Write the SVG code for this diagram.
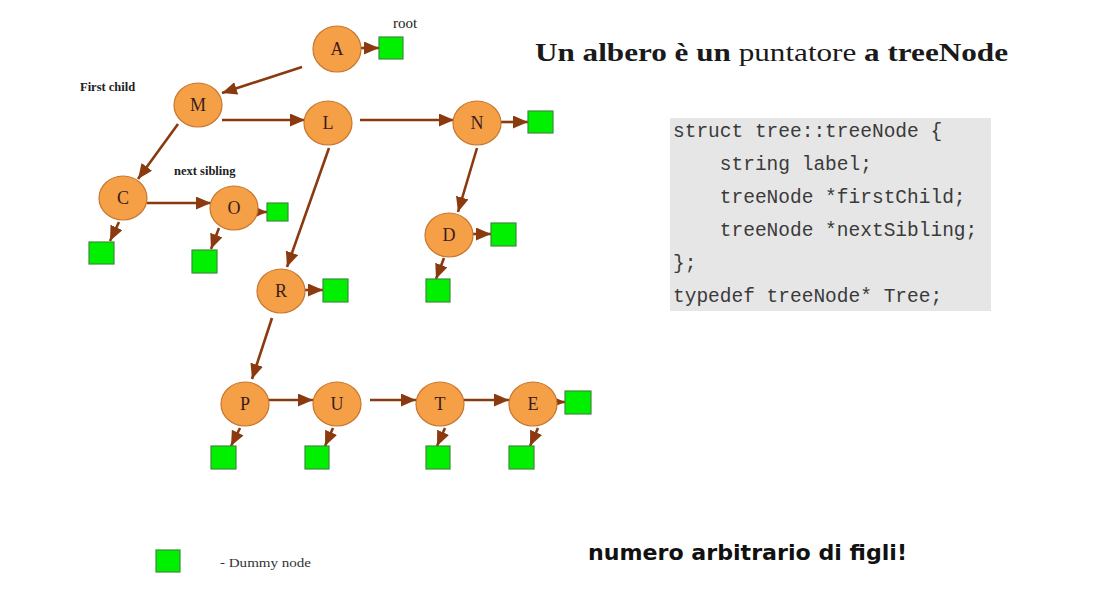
<svg xmlns="http://www.w3.org/2000/svg" width="1094" height="612" viewBox="0 0 1094 612">
<style>
.node ellipse{fill:#F5A047;stroke:#C8762E;stroke-width:1.2}
.node text{font-family:"Liberation Serif",serif;font-size:18px;fill:#3a1c1c;text-anchor:middle}
.dummy{fill:#00F000;stroke:#3C8A3C;stroke-width:1.2}
.conn line{stroke:#8A3A0E;stroke-width:2.6;marker-end:url(#ah)}
.lbl{font-family:"Liberation Serif",serif;font-weight:bold;font-size:12.5px;fill:#222}
.code{font-family:"Liberation Mono",monospace;font-size:19.5px;fill:#3a3a3a;white-space:pre}
</style>
<defs>
<marker id="ah" markerUnits="userSpaceOnUse" markerWidth="16" markerHeight="14" refX="15" refY="6.5" orient="auto">
<path d="M0,0 L15,6.5 L0,13 z" fill="#8A3A0E"/>
</marker>
</defs>
<rect width="1094" height="612" fill="#fff"/>

<g id="connectors" class="conn">
<line x1="302" y1="67" x2="222" y2="93"/>
<line x1="361" y1="48" x2="379" y2="48"/>
<line x1="222" y1="120" x2="305" y2="120"/>
<line x1="178" y1="124" x2="138" y2="179"/>
<line x1="360" y1="120" x2="454" y2="120"/>
<line x1="329" y1="148" x2="287" y2="267"/>
<line x1="501" y1="122" x2="528" y2="122"/>
<line x1="477" y1="148" x2="458" y2="212"/>
<line x1="473" y1="234" x2="491" y2="234"/>
<line x1="444" y1="258" x2="436" y2="279"/>
<line x1="147" y1="203" x2="211" y2="203"/>
<line x1="119" y1="222" x2="110" y2="241"/>
<line x1="257" y1="212" x2="267" y2="212"/>
<line x1="219" y1="228" x2="211" y2="249"/>
<line x1="305" y1="290" x2="323" y2="290"/>
<line x1="272" y1="318" x2="252" y2="379"/>
<line x1="268" y1="400" x2="313" y2="400"/>
<line x1="370" y1="400" x2="416" y2="400"/>
<line x1="463" y1="400" x2="509" y2="400"/>
<line x1="556" y1="402" x2="565" y2="402"/>
<line x1="240" y1="428" x2="231" y2="446"/>
<line x1="333" y1="428" x2="325" y2="446"/>
<line x1="445" y1="428" x2="437" y2="446"/>
<line x1="538" y1="428" x2="530" y2="446"/>
</g>

<g id="dummies">
<rect class="dummy" x="379" y="37" width="24" height="22"/>
<rect class="dummy" x="528" y="111" width="25" height="22"/>
<rect class="dummy" x="491" y="223" width="25" height="23"/>
<rect class="dummy" x="426" y="279" width="24" height="23"/>
<rect class="dummy" x="89" y="242" width="25" height="22"/>
<rect class="dummy" x="267" y="203" width="21" height="18"/>
<rect class="dummy" x="192" y="250" width="25" height="23"/>
<rect class="dummy" x="323" y="279" width="25" height="23"/>
<rect class="dummy" x="565" y="391" width="26" height="23"/>
<rect class="dummy" x="211" y="446" width="25" height="23"/>
<rect class="dummy" x="305" y="446" width="24" height="23"/>
<rect class="dummy" x="426" y="446" width="24" height="23"/>
<rect class="dummy" x="509" y="446" width="25" height="23"/>
</g>

<g id="node-A" class="node"><ellipse cx="337" cy="49" rx="24" ry="23"/><text x="337" y="55">A</text></g>
<g id="node-M" class="node"><ellipse cx="198" cy="105" rx="24" ry="22"/><text x="198" y="111">M</text></g>
<g id="node-L" class="node"><ellipse cx="328" cy="123" rx="24" ry="22"/><text x="328" y="129">L</text></g>
<g id="node-N" class="node"><ellipse cx="477" cy="123" rx="24" ry="22"/><text x="477" y="129">N</text></g>
<g id="node-D" class="node"><ellipse cx="449" cy="235" rx="24" ry="22"/><text x="449" y="241">D</text></g>
<g id="node-C" class="node"><ellipse cx="123" cy="198" rx="24" ry="22"/><text x="123" y="204">C</text></g>
<g id="node-O" class="node"><ellipse cx="234" cy="208" rx="24" ry="22"/><text x="234" y="214">O</text></g>
<g id="node-R" class="node"><ellipse cx="281" cy="291" rx="24" ry="22"/><text x="281" y="297">R</text></g>
<g id="node-P" class="node"><ellipse cx="245" cy="404" rx="24" ry="22"/><text x="245" y="410">P</text></g>
<g id="node-U" class="node"><ellipse cx="337" cy="404" rx="24" ry="22"/><text x="337" y="410">U</text></g>
<g id="node-T" class="node"><ellipse cx="440" cy="404" rx="24" ry="22"/><text x="440" y="410">T</text></g>
<g id="node-E" class="node"><ellipse cx="533" cy="404" rx="24" ry="22"/><text x="533" y="410">E</text></g>

<g id="labels">
<text x="393" y="28" style="font-family:'Liberation Serif',serif;font-size:15px;fill:#222">root</text>
<text class="lbl" x="80" y="91">First child</text>
<text class="lbl" x="174" y="175">next sibling</text>
</g>

<g id="legend">
<rect class="dummy" x="156" y="550" width="24" height="22"/>
<text x="220" y="567" textLength="91" lengthAdjust="spacingAndGlyphs" style="font-family:'Liberation Serif',serif;font-size:13px;fill:#333">- Dummy node</text>
</g>

<g id="title">
<text x="535" y="61" textLength="473" lengthAdjust="spacingAndGlyphs" style="font-family:'Liberation Serif',serif;font-size:25px;fill:#1a1a1a"><tspan font-weight="bold">Un albero è un </tspan><tspan>puntatore </tspan><tspan font-weight="bold">a treeNode</tspan></text>
</g>

<g id="code">
<rect x="670" y="118" width="321" height="193" fill="#E6E6E6"/>
<text class="code" x="673" y="137">struct tree::treeNode {</text>
<text class="code" x="673" y="170">    string label;</text>
<text class="code" x="673" y="203">    treeNode *firstChild;</text>
<text class="code" x="673" y="236">    treeNode *nextSibling;</text>
<text class="code" x="673" y="269">};</text>
<text class="code" x="673" y="302">typedef treeNode* Tree;</text>
</g>

<g id="note">
<text x="588" y="560" textLength="319" lengthAdjust="spacingAndGlyphs" style="font-family:'Comic Sans MS','DejaVu Sans',sans-serif;font-weight:bold;font-size:21px;fill:#111">numero arbitrario di figli!</text>
</g>
</svg>
